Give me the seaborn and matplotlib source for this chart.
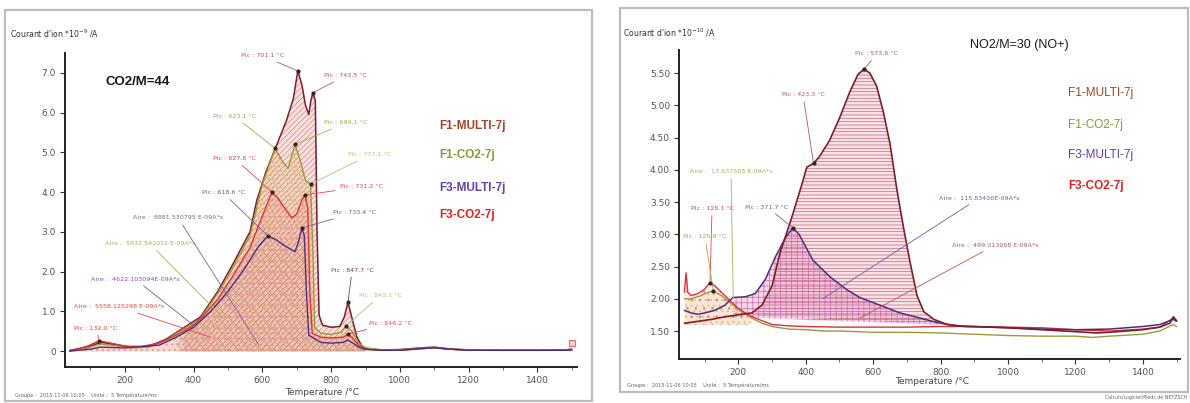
import numpy as np
import matplotlib
matplotlib.use("Agg")
import matplotlib.pyplot as plt
from matplotlib.patches import Rectangle
import seaborn as sns

# ---------------- CO2 (M=44) ion current, left panel ----------------
co2_f1multi_T = [40, 90, 130, 170, 220, 270, 320, 370, 420, 470, 515, 564, 584, 610, 640, 670, 690, 703,
                 715, 725, 735, 741, 747, 754, 759, 765, 775, 800, 825, 838, 849, 860, 875, 890, 910,
                 950, 1000, 1060, 1100, 1140, 1200, 1300, 1400, 1480, 1500]
co2_f1multi_V = [0.02, 0.1, 0.22, 0.17, 0.1, 0.12, 0.3, 0.58, 0.86, 1.5, 2.2, 3.0, 3.8, 4.5, 5.15, 5.8, 6.35, 7.05,
                 6.7, 6.2, 5.95, 6.3, 6.5, 6.3, 3.0, 0.9, 0.65, 0.6, 0.62, 0.85, 1.23, 0.85, 0.35, 0.12, 0.05,
                 0.03, 0.04, 0.08, 0.1, 0.06, 0.03, 0.02, 0.02, 0.03, 0.05]

co2_f1co2_T = [40, 90, 130, 170, 220, 270, 320, 370, 420, 470, 515, 564, 600, 637, 660, 675, 695, 710,
               725, 740, 747, 752, 770, 800, 830, 843, 860, 880, 900, 950, 1000, 1060, 1100, 1140, 1200,
               1300, 1400, 1480, 1500]
co2_f1co2_V = [0.01, 0.08, 0.18, 0.14, 0.08, 0.1, 0.28, 0.55, 0.82, 1.45, 2.1, 2.9, 4.2, 5.1, 4.75, 4.6, 5.2, 4.8,
               4.3, 4.2, 2.5, 0.6, 0.45, 0.42, 0.48, 0.63, 0.5, 0.2, 0.08, 0.03, 0.03, 0.07, 0.09, 0.05, 0.03,
               0.02, 0.02, 0.03, 0.04]

co2_f3multi_T = [40, 100, 130, 200, 300, 350, 400, 450, 500, 550, 590, 616, 640, 665, 695, 705, 715, 722,
                 728, 735, 770, 800, 835, 848, 860, 880, 900, 950, 1000, 1060, 1100, 1140, 1200, 1300,
                 1400, 1480, 1500]
co2_f3multi_V = [0.0, 0.05, 0.1, 0.08, 0.15, 0.35, 0.6, 1.0, 1.5, 2.1, 2.65, 2.9, 2.8, 2.65, 2.5, 2.75, 3.1, 2.9,
                 1.5, 0.4, 0.22, 0.2, 0.22, 0.28, 0.22, 0.1, 0.04, 0.02, 0.02, 0.06, 0.08, 0.05, 0.02, 0.02,
                 0.02, 0.02, 0.03]

co2_f3co2_T = [40, 90, 126, 160, 200, 250, 300, 350, 400, 430, 470, 515, 564, 600, 628, 645, 665, 685,
               700, 715, 724, 732, 738, 745, 770, 800, 835, 848, 860, 880, 900, 950, 1000, 1060, 1100,
               1140, 1200, 1300, 1400, 1480, 1500]
co2_f3co2_V = [0.0, 0.12, 0.26, 0.2, 0.12, 0.12, 0.2, 0.4, 0.65, 0.9, 1.3, 1.9, 2.6, 3.4, 4.0, 3.85, 3.6, 3.35,
               3.45, 3.8, 3.93, 3.6, 1.5, 0.45, 0.35, 0.33, 0.35, 0.42, 0.35, 0.15, 0.05, 0.02, 0.02, 0.06,
               0.09, 0.05, 0.02, 0.02, 0.02, 0.02, 0.03]

# ---------------- NO2 (M=30, NO+) ion current, right panel ----------------
no_f1multi_T = [40, 80, 120, 160, 200, 240, 270, 300, 323, 359, 390, 403, 423, 440, 470, 500, 530, 555, 573,
                590, 610, 630, 650, 670, 690, 710, 730, 750, 780, 820, 870, 950, 1000, 1100, 1200, 1260,
                1300, 1400, 1450, 1480, 1490, 1500]
no_f1multi_V = [1.62, 1.65, 1.68, 1.72, 1.75, 1.78, 1.9, 2.2, 2.7, 3.27, 3.8, 4.04, 4.1, 4.2, 4.45, 4.8, 5.2, 5.48, 5.56,
                5.5, 5.3, 4.9, 4.4, 3.7, 3.1, 2.55, 2.05, 1.8, 1.68, 1.6, 1.57, 1.56, 1.55, 1.52, 1.49, 1.47,
                1.48, 1.52, 1.56, 1.62, 1.72, 1.66]

no_f1co2_T = [40, 60, 90, 110, 126, 150, 180, 210, 240, 270, 300, 350, 400, 450, 500, 600, 700, 800, 900,
              1000, 1100, 1200, 1250, 1300, 1400, 1450, 1490, 1500]
no_f1co2_V = [2.0, 2.0, 2.05, 2.1, 2.12, 2.05, 1.92, 1.8, 1.7, 1.62, 1.57, 1.53, 1.52, 1.5, 1.5, 1.48, 1.48, 1.47,
              1.45, 1.43, 1.42, 1.42, 1.4, 1.42, 1.45, 1.5, 1.6, 1.57]

no_f3multi_T = [40, 60, 80, 100, 130, 160, 184, 220, 250, 280, 310, 340, 362, 380, 421, 472, 522, 560, 620,
                680, 740, 790, 850, 900, 1000, 1100, 1200, 1300, 1400, 1450, 1490, 1500]
no_f3multi_V = [1.82, 1.78, 1.76, 1.78, 1.82, 1.9, 2.02, 2.03, 2.08, 2.3, 2.65, 2.95, 3.1, 3.0, 2.6, 2.34, 2.14,
                2.02, 1.9, 1.78, 1.7, 1.63, 1.58, 1.57, 1.55, 1.53, 1.52, 1.53, 1.57, 1.6, 1.68, 1.65]

no_f3co2_T = [40, 45, 50, 60, 80, 100, 116, 130, 150, 170, 200, 230, 260, 300, 350, 400, 500, 600, 700, 800,
              900, 1000, 1100, 1200, 1300, 1400, 1450, 1490, 1500]
no_f3co2_V = [2.1, 2.4, 2.1, 2.05, 2.08, 2.15, 2.25, 2.2, 2.1, 2.0, 1.85, 1.75, 1.68, 1.6, 1.58, 1.57, 1.56, 1.56,
              1.56, 1.57, 1.57, 1.56, 1.55, 1.52, 1.5, 1.53, 1.56, 1.7, 1.65]

series_names = ["F1-MULTI-7j", "F1-CO2-7j", "F3-MULTI-7j", "F3-CO2-7j"]
x_ticks = [200, 400, 600, 800, 1000, 1200, 1400]
co2_y_ticks = [0, 1, 2, 3, 4, 5, 6, 7]
co2_y_labels = ["0", "1.0", "2.0", "3.0", "4.0", "5.0", "6.0", "7.0"]
no_y_ticks = [1.5, 2.0, 2.5, 3.0, 3.5, 4.0, 4.5, 5.0, 5.5]
no_y_labels = ["1.50", "2.00", "2.50", "3.00", "3.50", "4.00", "4.50", "5.00", "5.50"]

# integration baselines for the NO+ peaks (start/end temperature, level)
no_f1multi_base_T = [214, 830]
no_f1multi_base_V = [1.75, 1.6]
no_f3multi_base_T = [180, 800]
no_f3multi_base_V = [1.72, 1.6]

# ---------------- style ----------------
sns.set_theme(style="white")
plt.rcParams["font.family"] = ["DejaVu Sans"]
plt.rcParams["hatch.linewidth"] = 0.5

line_colors = ["#7a1f2e", "#9c9a3c", "#4b2f7f", "#e0303a"]
legend_colors = ["#a8432c", "#8b9a34", "#6242a8", "#e42222"]
label_colors = ["#b45a5a", "#a8a848", "#7a5aa8", "#e24848"]

W, H = 1190, 403
fig = plt.figure(figsize=(W / 100, H / 100), dpi=100)
fig.patch.set_facecolor("white")

# panel frames
for (x0, y0, x1, y1) in [(5, 10, 592, 401), (620, 8, 1188, 392)]:
    fig.patches.append(Rectangle((x0 / W, 1 - y1 / H), (x1 - x0) / W, (y1 - y0) / H,
                                 transform=fig.transFigure, fill=False,
                                 edgecolor="#bdbdbd", lw=1.6, zorder=0))


def px_axes(x0, y0, x1, y1):
    return fig.add_axes([x0 / W, 1 - y1 / H, (x1 - x0) / W, (y1 - y0) / H])


def style_axes(ax, yticks, ylabels, xlim, ylim):
    ax.set_xlim(*xlim)
    ax.set_ylim(*ylim)
    for s in ["top", "right"]:
        ax.spines[s].set_visible(False)
    for s in ["left", "bottom"]:
        ax.spines[s].set_color("#222222")
        ax.spines[s].set_linewidth(1.4)
    ax.set_xticks(x_ticks)
    ax.set_xticks([100, 300, 500, 700, 900, 1100, 1300, 1500], minor=True)
    ax.set_yticks(yticks)
    ax.set_yticklabels(ylabels)
    ax.tick_params(axis="both", which="major", direction="out", length=3.5, width=0.8,
                   color="#333333", labelsize=6.5, labelcolor="#555555", pad=3,
                   bottom=True, left=True)
    ax.tick_params(axis="x", which="minor", direction="out", length=2, width=0.6,
                   color="#555555", bottom=True)
    ax.set_facecolor("none")
    ax.grid(False)


def curve(ax, T, V, color, lw=1.0):
    sns.lineplot(x=T, y=V, ax=ax, color=color, lw=lw, sort=False, legend=False, zorder=4)


def area(ax, T, V, base, lo, hi, face, hatch_color, hatch, alpha=0.55):
    T = np.asarray(T, float)
    V = np.asarray(V, float)
    m = (T >= lo) & (T <= hi)
    b = base if np.isscalar(base) else np.asarray(base)[m]
    ax.fill_between(T[m], V[m], b, facecolor=face, alpha=alpha, lw=0, zorder=1)
    ax.fill_between(T[m], V[m], b, facecolor="none", edgecolor=hatch_color, hatch=hatch,
                    lw=0, zorder=2)


def note(ax, text, xy, xytext, color, fs=4.6, dot=True):
    ax.annotate(text, xy=xy, xytext=xytext, fontsize=fs, color=color, ha="center", va="center",
                arrowprops=dict(arrowstyle="-", color=color, lw=0.6, shrinkA=1, shrinkB=0),
                zorder=6)
    if dot:
        ax.plot([xy[0]], [xy[1]], "o", ms=2.0, color="#3a2020", zorder=7)


# ================= left panel: CO2 =================
ax1 = px_axes(65, 53, 577, 367)
style_axes(ax1, co2_y_ticks, co2_y_labels, (26, 1515), (-0.4, 7.5))

area(ax1, co2_f1multi_T, co2_f1multi_V, 0.0, 330, 900, "#f3c7c4", "#cf8a86", "//////")
area(ax1, co2_f1co2_T, co2_f1co2_V, 0.0, 330, 900, "#f2cfa0", "#d6a870", "....")
area(ax1, co2_f3co2_T, co2_f3co2_V, 0.0, 40, 900, "#f5b7a8", "#e08878", "...")
area(ax1, co2_f3multi_T, co2_f3multi_V, 0.0, 330, 900, "#f0c0b0", "#d09890", "xxx", alpha=0.3)

curve(ax1, co2_f1multi_T, co2_f1multi_V, line_colors[0], 1.1)
curve(ax1, co2_f1co2_T, co2_f1co2_V, line_colors[1], 1.0)
curve(ax1, co2_f3co2_T, co2_f3co2_V, line_colors[3], 1.0)
curve(ax1, co2_f3multi_T, co2_f3multi_V, line_colors[2], 1.0)
ax1.plot([1500], [0.2], "s", ms=5, mfc="#f6d0d0", mec="#d07070", mew=0.8, zorder=5)

# peak labels
note(ax1, "Pic : 701.1 °C", (703, 7.05), (600, 7.43), label_colors[0])
note(ax1, "Pic : 743.5 °C", (747, 6.5), (843, 6.93), label_colors[0])
note(ax1, "Pic : 623.1 °C", (637, 5.1), (520, 5.9), label_colors[1])
note(ax1, "Pic : 694.1 °C", (695, 5.2), (843, 5.74), label_colors[1])
note(ax1, "Pic : 737.1 °C", (740, 4.2), (913, 4.94), "#a8c878")
note(ax1, "Pic : 627.8 °C", (628, 4.0), (520, 4.84), label_colors[3])
note(ax1, "Pic : 731.2 °C", (724, 3.93), (887, 4.13), label_colors[3])
note(ax1, "Pic : 618.6 °C", (616, 2.9), (486, 3.98), label_colors[2])
note(ax1, "Pic : 733.4 °C", (715, 3.1), (869, 3.48), label_colors[2])
note(ax1, "Pic : 847.7 °C", (849, 1.23), (861, 2.04), "#6a4a4a")
note(ax1, "Pic : 843.1 °C", (843, 0.63), (942, 1.39), "#a8c878")
note(ax1, "Pic : 846.2 °C", (848, 0.42), (971, 0.70), label_colors[3])
note(ax1, "Pic : 132.0 °C", (126, 0.26), (116, 0.58), label_colors[3])

# area labels
note(ax1, "Aire :  5558.125298 E-09A*s", (450, 0.35), (183, 1.11), label_colors[3], dot=False)
note(ax1, "Aire :  4622.103094E-09A*s", (404, 0.62), (230, 1.81), label_colors[2], dot=False)
note(ax1, "Aire :  5932.542052 E-09A*s", (490, 0.8), (273, 2.70), "#a8b060", dot=False)
note(ax1, "Aire :  8881.530795 E-09A*s", (590, 0.15), (355, 3.35), "#7a6a8a", dot=False)

fig.text(10 / W, 1 - 34 / H, "Courant d'ion *10$^{-9}$ /A", fontsize=5.6, color="#333333",
         ha="left", va="center")
ax1.set_xlabel("Temperature /°C", fontsize=6.5, color="#444444")
ax1.xaxis.set_label_coords((322 - 65) / 512, (367 - 388) / 314)
ax1.text((105 - 65) / 512, (367 - 82) / 314, "CO2/M=44", transform=ax1.transAxes,
         fontsize=9.5, fontweight="bold", family="Liberation Sans", color="#1a1a1a",
         ha="left", va="center")
for i, (name, y) in enumerate(zip(series_names, [126, 155, 188, 215])):
    fig.text(439 / W, 1 - y / H, name, fontsize=8.5, fontweight="bold", family="Liberation Sans",
             color=legend_colors[i], ha="left", va="center")
fig.text(15 / W, 1 - 395 / H, "Groupe :  2015-11-06 10:05    Unité :  5 Température/ms",
         fontsize=3.6, color="#666666", ha="left", va="center")

# ================= right panel: NO2 =================
ax2 = px_axes(679, 50, 1180, 359)
style_axes(ax2, no_y_ticks, no_y_labels, (24, 1510), (1.066, 5.857))

base_f1 = np.interp(no_f1multi_T, no_f1multi_base_T, no_f1multi_base_V)
base_f3 = np.interp(no_f3multi_T, no_f3multi_base_T, no_f3multi_base_V)
area(ax2, no_f1multi_T, no_f1multi_V, base_f1, 214, 830, "#f7d6dc", "#c06a7a", "-----", alpha=0.7)
area(ax2, no_f3multi_T, no_f3multi_V, base_f3, 180, 800, "#eeaed4", "#cc6aa6", "+++", alpha=0.5)
area(ax2, no_f1co2_T, no_f1co2_V, 1.6, 40, 240, "#f6efc0", "#c8c070", "...", alpha=0.7)
area(ax2, no_f3co2_T, no_f3co2_V, 1.6, 40, 230, "#f8d2d8", "#e07a88", "..", alpha=0.4)

curve(ax2, no_f1co2_T, no_f1co2_V, line_colors[1], 1.0)
curve(ax2, no_f3co2_T, no_f3co2_V, line_colors[3], 1.0)
curve(ax2, no_f3multi_T, no_f3multi_V, line_colors[2], 1.1)
curve(ax2, no_f1multi_T, no_f1multi_V, line_colors[0], 1.2)

note(ax2, "Pic : 573.6 °C", (573, 5.56), (611, 5.80), label_colors[0])
note(ax2, "Pic : 423.3 °C", (423, 4.1), (392, 5.16), label_colors[0])
note(ax2, "Pic : 371.7 °C", (362, 3.1), (285, 3.42), label_colors[2])
note(ax2, "Pic : 128.1 °C", (116, 2.25), (122, 3.40), label_colors[3])
note(ax2, "Pic : 125.9 °C", (126, 2.12), (101, 2.96), label_colors[1])
note(ax2, "Aire :  13.637565 E-09A*s", (185, 2.0), (178, 3.97), "#a8b060", dot=False)
note(ax2, "Aire :  115.83436E-09A*s", (450, 2.0), (914, 3.56), label_colors[2], dot=False)
note(ax2, "Aire :  499.013058 E-09A*s", (560, 1.7), (961, 2.83), label_colors[0], dot=False)

fig.text(623 / W, 1 - 33 / H, "Courant d'ion *10$^{-10}$ /A", fontsize=5.6, color="#333333",
         ha="left", va="center")
ax2.set_xlabel("Temperature /°C", fontsize=6.5, color="#444444")
ax2.xaxis.set_label_coords((932 - 679) / 501, (359 - 377) / 309)
fig.text(970 / W, 1 - 45 / H, "NO2/M=30 (NO+)", fontsize=9.0, family="Liberation Sans",
         color="#1a1a1a", ha="left", va="center")
for i, (name, y) in enumerate(zip(series_names, [93, 125, 155, 186])):
    fig.text(1068 / W, 1 - y / H, name, fontsize=8.5, family="Liberation Sans",
             fontweight="bold" if i == 3 else "normal",
             color=legend_colors[i], ha="left", va="center")
fig.text(627 / W, 1 - 385 / H, "Groupe :  2015-11-06 10:05    Unité :  5 Température/ms",
         fontsize=3.6, color="#666666", ha="left", va="center")
fig.text(1187 / W, 1 - 398 / H, "Calculs/Logiciel/Pieds de NETZSCH",
         fontsize=3.4, color="#666666", ha="right", va="center")

fig.savefig("out.png", dpi=100, facecolor="white")
